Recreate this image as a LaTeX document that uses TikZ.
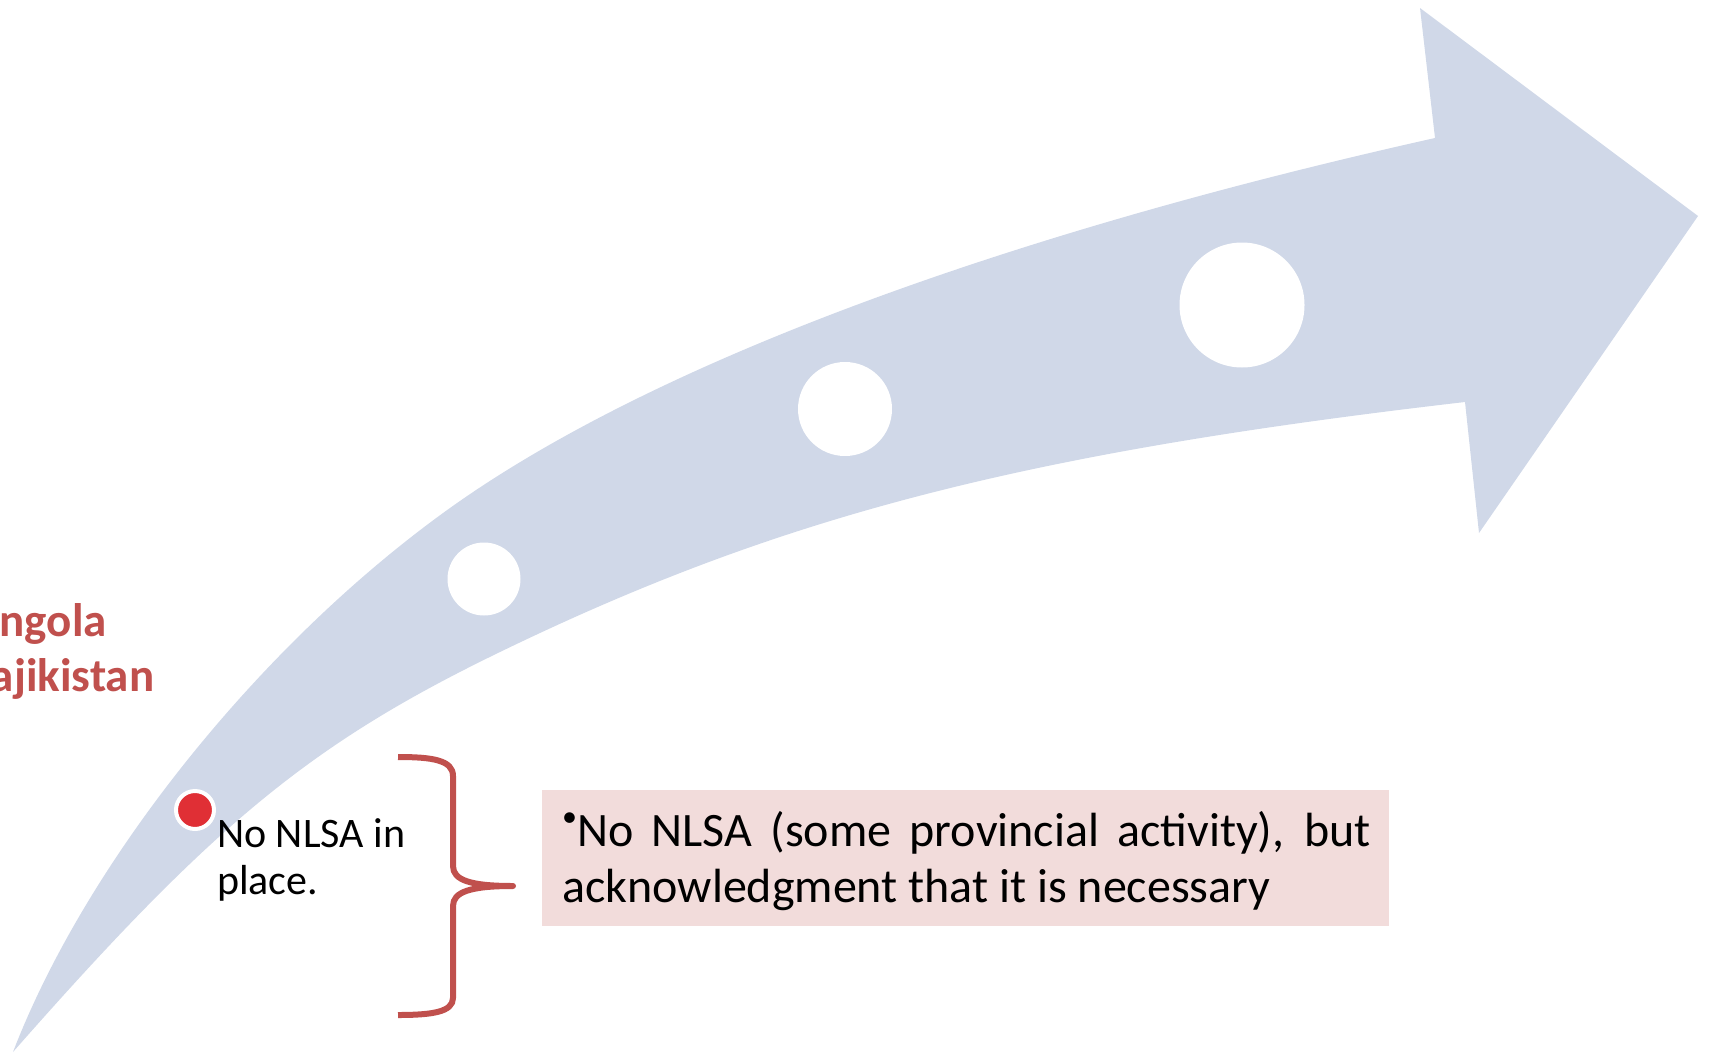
\documentclass[tikz,border=0pt]{standalone}
\usepackage{fontspec}
\setmainfont{Carlito}
\definecolor{arrowblue}{HTML}{D0D8E8}
\definecolor{bracered}{HTML}{C0504D}
\definecolor{dotred}{HTML}{E02F35}
\definecolor{boxpink}{HTML}{F2DCDB}
\begin{document}
\begin{tikzpicture}[x=1pt,y=-1pt,
  hole/.style={circle, fill=white, inner sep=0pt},
  redlabel/.style={anchor=base west, inner sep=0pt, text=bracered, font=\bfseries\fontsize{47}{55}\selectfont},
  steptext/.style={anchor=base west, inner sep=0pt, font=\fontsize{42}{46}\selectfont},
  boxtext/.style={anchor=base west, inner sep=0pt, font=\fontsize{48}{53}\selectfont},
  bracestyle/.style={draw=bracered, line width=6pt, line join=round}]
\useasboundingbox (0,0) rectangle (1710,1052);
\begin{scope}
\clip (0,0) rectangle (1710,1052);
% curved arrow
\fill[arrowblue] (13,1052) .. controls (86.9,860.1) and (261.7,642.5) .. (450,508)
  .. controls (648.8,366.1) and (993.6,236.6) .. (1435,138)
  -- (1420,8) -- (1698,216) -- (1479,533) -- (1465,402)
  .. controls (1022.5,453.3) and (781,515.8) .. (500,652)
  .. controls (311.2,743.5) and (213.8,823.5) .. (13,1052) -- cycle;
% milestones
\node[hole, minimum size=73pt] (m1) at (484,579) {};
\node[hole, minimum size=94pt] (m2) at (845,409) {};
\node[hole, minimum size=125pt] (m3) at (1242,305) {};
\node[circle, fill=dotred, draw=white, line width=4pt, minimum size=38pt, inner sep=0pt] (dot) at (195,810) {};
% country labels (cut off at the left edge)
\node[redlabel] (angola) at (-29,636) {Angola};
\node[redlabel] (tajik) at (-29,691) {Tajikistan};
\end{scope}
% stage text
\node[steptext] (s1) at (217,847) {No NLSA in};
\node[steptext] (s2) at (217,894) {place.};
% brace
\coordinate (btip) at (513,886);
\draw[bracestyle] (398,757) .. controls (432,757) and (453,760) .. (453,776) -- (453,866)
  .. controls (453,880) and (470,886) .. (btip)
  .. controls (470,886) and (453,892) .. (453,906) -- (453,998)
  .. controls (453,1012) and (432,1015) .. (398,1015);
% description box
\node[fill=boxpink, inner sep=0pt, minimum width=847pt, minimum height=136pt, anchor=north west] (box) at (542,790) {};
\node[boxtext] (d1) at (562,846) {\makebox[809pt][s]{\raisebox{0.4em}{\fontsize{30}{30}\selectfont •}No NLSA (some provincial activity), but}};
\node[boxtext] (d2) at (562,902) {acknowledgment that it is necessary};
\end{tikzpicture}
\end{document}
